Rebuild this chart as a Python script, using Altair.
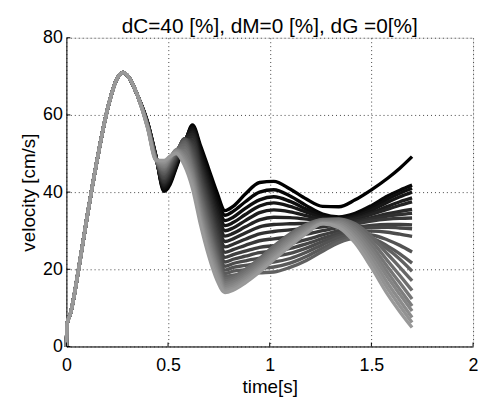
import altair as alt
import pandas as pd

TITLE = "dC=40 [%], dM=0 [%], dG =0[%]"
X_TICKS = [0, 0.5, 1, 1.5, 2]
Y_TICKS = [0, 20, 40, 60, 80]

# shared start of every curve
T_COMMON = [0, 0.004, 0.02, 0.06, 0.10, 0.15, 0.20, 0.25, 0.28, 0.31, 0.35]
V_COMMON = [0, 6, 8.5, 20, 33, 48, 61, 69.5, 71, 69.5, 65]

# time points of the diverging part
T_LATE = [0.40, 0.44, 0.48, 0.51, 0.54, 0.58, 0.62, 0.66, 0.70, 0.74, 0.78,
          0.82, 0.88, 0.95, 1.02, 1.10, 1.18, 1.26, 1.34, 1.42, 1.50, 1.58, 1.64, 1.70]

C00 = [58.0, 49.5, 40.2, 42.0, 46.3, 52.0, 57.4, 52.0, 46.0, 40.0, 35.2, 36.3, 39.5, 42.5, 42.8, 40.8, 38.2, 36.3, 36.2, 38.0, 40.6, 43.6, 46.2, 49.2]
C01 = [57.9, 49.4, 40.6, 42.5, 46.6, 52.3, 57.0, 51.3, 45.0, 38.8, 34.0, 35.0, 37.5, 40.0, 40.6, 39.0, 36.5, 34.3, 33.6, 34.5, 36.5, 39.0, 40.5, 41.8]
C02 = [57.9, 49.3, 40.9, 43.0, 47.0, 52.6, 56.6, 50.5, 44.0, 37.5, 32.6, 33.5, 35.8, 38.0, 38.8, 37.6, 35.6, 33.8, 33.2, 34.0, 35.8, 38.2, 39.7, 41.0]
C03 = [57.8, 49.3, 41.3, 43.4, 47.3, 52.9, 56.2, 49.6, 43.0, 36.3, 31.3, 32.1, 34.2, 36.4, 37.2, 36.3, 34.8, 33.4, 33.0, 33.7, 35.3, 37.4, 38.8, 40.0]
C04 = [57.7, 49.2, 41.7, 43.9, 47.7, 53.1, 55.6, 48.7, 42.0, 35.1, 30.0, 30.7, 32.6, 34.7, 35.4, 34.9, 33.9, 33.0, 32.8, 33.3, 34.6, 36.3, 37.5, 38.5]
C05 = [57.7, 49.1, 42.0, 44.3, 48.0, 53.3, 55.0, 47.8, 40.9, 33.9, 28.6, 29.3, 31.0, 32.8, 33.5, 33.4, 33.0, 32.6, 32.5, 33.0, 34.2, 35.6, 36.6, 37.5]
C06 = [57.6, 49.0, 42.4, 44.7, 48.3, 53.5, 54.3, 46.9, 39.9, 32.7, 27.2, 27.9, 29.4, 31.0, 31.6, 31.8, 31.9, 32.0, 32.1, 32.5, 33.4, 34.4, 35.0, 35.5]
C07 = [57.5, 49.0, 42.7, 45.1, 48.6, 53.6, 53.6, 46.0, 38.8, 31.4, 25.8, 26.5, 27.8, 29.2, 29.8, 30.2, 30.6, 31.0, 31.5, 32.1, 33.0, 33.8, 34.2, 34.5]
C08 = [57.5, 48.9, 43.1, 45.5, 48.9, 53.7, 52.9, 45.1, 37.8, 30.2, 24.4, 25.1, 26.2, 27.4, 27.9, 28.4, 29.1, 30.0, 30.9, 31.7, 32.5, 33.0, 33.2, 33.3]
C09 = [57.4, 48.8, 43.5, 45.9, 49.2, 53.8, 52.1, 44.2, 36.8, 29.0, 23.1, 23.8, 24.7, 25.7, 26.1, 26.7, 27.7, 28.9, 30.0, 30.9, 31.4, 31.6, 31.6, 31.5]
C10 = [57.3, 48.7, 43.8, 46.3, 49.5, 53.8, 51.3, 43.3, 35.7, 27.9, 21.9, 22.6, 23.4, 24.3, 24.7, 25.4, 26.6, 28.0, 29.4, 30.3, 30.8, 30.9, 30.7, 30.5]
C11 = [57.3, 48.7, 44.2, 46.7, 49.8, 53.7, 50.5, 42.4, 34.7, 26.8, 20.8, 21.5, 22.2, 22.9, 23.3, 24.1, 25.5, 27.2, 28.7, 29.6, 29.9, 29.6, 29.1, 28.5]
C12 = [57.2, 48.7, 44.6, 47.0, 50.1, 53.5, 49.7, 41.5, 33.7, 25.8, 19.8, 20.5, 21.0, 21.6, 21.9, 22.8, 24.4, 26.4, 28.2, 29.1, 28.9, 27.6, 26.2, 24.5]
C13 = [57.1, 48.6, 44.9, 47.4, 50.3, 53.2, 48.9, 40.5, 32.6, 24.8, 18.9, 19.5, 19.9, 20.3, 20.6, 21.6, 23.3, 25.5, 27.5, 28.5, 28.1, 26.0, 24.0, 21.6]
C14 = [57.1, 48.6, 45.3, 47.7, 50.5, 52.8, 48.0, 39.6, 31.6, 23.9, 18.2, 18.5, 18.8, 19.1, 19.3, 20.5, 22.3, 24.7, 26.9, 28.0, 27.6, 25.2, 22.6, 19.5]
C15 = [57.0, 48.5, 45.7, 48.0, 50.7, 52.2, 47.2, 38.6, 30.6, 23.1, 17.5, 18.1, 20.0, 22.8, 26.0, 29.2, 31.6, 32.9, 33.0, 31.8, 28.5, 23.9, 20.5, 17.0]
C16 = [56.9, 48.5, 46.0, 48.3, 50.8, 51.5, 46.4, 37.6, 29.6, 22.3, 17.0, 17.6, 19.5, 22.3, 25.5, 28.8, 31.4, 32.8, 33.0, 31.3, 27.4, 22.2, 18.4, 14.5]
C17 = [56.9, 48.5, 46.4, 48.5, 50.9, 50.8, 45.6, 36.6, 28.6, 21.5, 16.5, 17.1, 19.0, 21.8, 25.0, 28.4, 31.1, 32.6, 32.7, 30.7, 26.3, 20.6, 16.5, 12.3]
C18 = [56.8, 48.4, 46.7, 48.7, 50.9, 50.0, 44.8, 35.6, 27.6, 20.8, 16.0, 16.6, 18.5, 21.3, 24.5, 28.0, 30.8, 32.4, 32.4, 30.1, 25.2, 19.2, 14.8, 10.5]
C19 = [56.7, 48.4, 47.1, 48.9, 50.8, 49.3, 44.0, 34.6, 26.6, 20.0, 15.5, 16.1, 18.0, 20.8, 24.0, 27.5, 30.4, 32.2, 32.1, 29.4, 24.2, 17.9, 13.5, 9.2]
C20 = [56.7, 48.4, 47.5, 49.1, 50.6, 48.5, 43.1, 33.6, 25.6, 19.3, 15.0, 15.6, 17.5, 20.3, 23.5, 27.0, 30.0, 32.0, 31.7, 28.6, 23.0, 16.4, 11.9, 7.5]
C21 = [56.6, 48.3, 47.8, 49.2, 50.3, 47.8, 42.1, 32.6, 24.5, 18.5, 14.5, 15.1, 17.0, 19.8, 23.0, 26.5, 29.6, 31.9, 31.3, 27.8, 21.8, 15.0, 10.5, 6.2]
C22 = [56.5, 48.3, 48.2, 49.3, 50.0, 47.0, 41.0, 31.5, 23.5, 17.3, 14.0, 14.6, 16.5, 19.3, 22.5, 26.0, 29.3, 31.8, 30.8, 26.8, 20.5, 13.5, 9.0, 4.9]

CURVES = [C00, C01, C02, C03, C04, C05, C06, C07, C08, C09, C10, C11,
          C12, C13, C14, C15, C16, C17, C18, C19, C20, C21, C22]

rows = []
for k, late in enumerate(CURVES):
    for t, v in zip(T_COMMON + T_LATE, V_COMMON + late):
        rows.append({"k": k, "t": t, "v": v})
df = pd.DataFrame(rows)

n = len(CURVES)
grays = []
for k in range(n):
    g = round(153 * k / (n - 1))
    grays.append("#{0:02x}{0:02x}{0:02x}".format(g))

W, H = 411, 312
FONT = "Liberation Sans"

xscale = alt.Scale(domain=[0, 2], nice=False, zero=False)
yscale = alt.Scale(domain=[0, 80], nice=False, zero=False)

lines = alt.Chart(df).mark_line(strokeWidth=3.4, interpolate="monotone").encode(
    x=alt.X("t:Q", scale=xscale,
            axis=alt.Axis(values=X_TICKS, format="~g", title="time[s]",
                          grid=True, gridDash=[1, 3], gridColor="#444", gridOpacity=1,
                          ticks=False, tickSize=0, domainColor="black",
                          labelFont=FONT, labelFontSize=18, labelColor="black",
                          labelPadding=10, labelFlush=False,
                          titleFont=FONT, titleFontSize=19, titleFontWeight="normal",
                          titleColor="black", titlePadding=4)),
    y=alt.Y("v:Q", scale=yscale,
            axis=alt.Axis(values=Y_TICKS, title="velocity [cm/s]",
                          grid=True, gridDash=[1, 3], gridColor="#444", gridOpacity=1,
                          ticks=False, tickSize=0, domainColor="black",
                          labelFont=FONT, labelFontSize=18, labelColor="black",
                          labelPadding=4, labelFlush=False,
                          titleFont=FONT, titleFontSize=19, titleFontWeight="normal",
                          titleColor="black", titlePadding=4)),
    color=alt.Color("k:O", scale=alt.Scale(domain=list(range(n)), range=grays), legend=None),
    order=alt.Order("t:Q"),
)

xt = alt.Chart(pd.DataFrame({"t": X_TICKS})).mark_rule(color="black", strokeWidth=1).encode(
    x=alt.X("t:Q", scale=xscale), y=alt.value(H), y2=alt.value(H - 4))
yt = alt.Chart(pd.DataFrame({"v": Y_TICKS})).mark_rule(color="black", strokeWidth=1).encode(
    y=alt.Y("v:Q", scale=yscale), x=alt.value(0), x2=alt.value(4))

chart = alt.layer(lines, xt, yt).properties(
    width=W, height=H,
    title=alt.TitleParams(TITLE, font=FONT, fontSize=21, fontWeight="normal",
                          color="black", anchor="middle", offset=-8),
    autosize=alt.AutoSizeParams(type="none"),
    padding={"left": 59, "top": 28, "right": 6, "bottom": 50},
).configure_view(stroke=None).configure(background="white")

chart.save("out.html", embed_options={"renderer": "svg", "actions": False})
